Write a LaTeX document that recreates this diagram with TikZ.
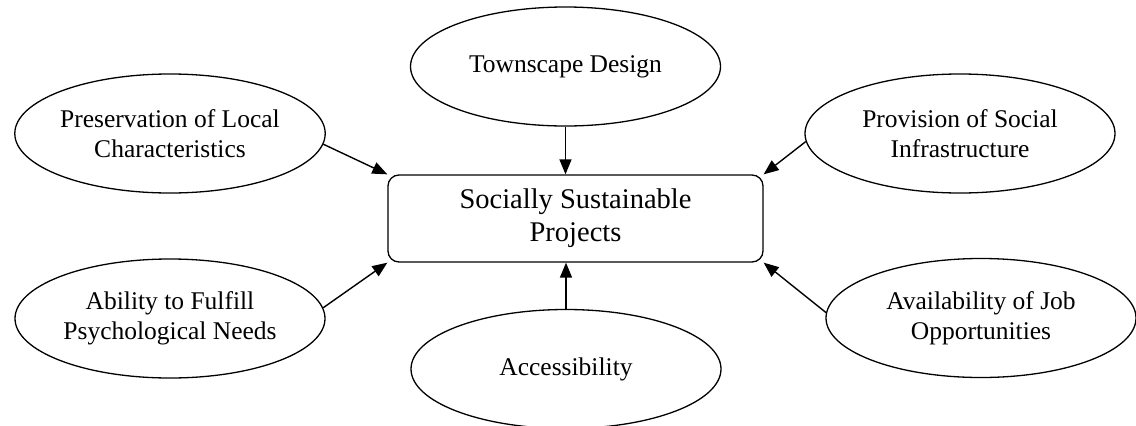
\documentclass[tikz,border=0pt]{standalone}
\usepackage{fontspec}
\setmainfont{Liberation Serif}
\usetikzlibrary{shapes.geometric,arrows.meta}

\tikzset{
  factor/.style={draw, ellipse, line width=1.3pt, minimum width=310pt,
    minimum height=119pt, inner sep=0pt, align=center,
    font=\fontsize{25.5}{30}\selectfont},
  goal/.style={draw, rectangle, rounded corners=11pt, line width=1.3pt,
    minimum width=375pt, minimum height=87pt, inner sep=0pt, align=center,
    font=\fontsize{28.5}{33}\selectfont},
  link/.style={line width=1.4pt, -{Triangle[length=15pt,width=12pt]}}
}

\begin{document}
\begin{tikzpicture}[x=1pt, y=-1pt]
  \useasboundingbox (0,0) rectangle (1136,426);

  % central outcome
  \node[goal] (ssp) at (575.5,218.5) {Socially Sustainable\\Projects};

  % contributing factors
  \node[factor] (town) at (565.5,66.5)  {Townscape Design};
  \node[factor] (pres) at (170,133.5)   {Preservation of Local\\Characteristics};
  \node[factor] (prov) at (960,133.5)   {Provision of Social\\Infrastructure};
  \node[factor] (psy)  at (170,318.5)   {Ability to Fulfill\\Psychological Needs};
  \node[factor] (acc)  at (566,369)     {Accessibility};
  \node[factor] (job)  at (981,318)     {Availability of Job\\Opportunities};

  % influences on the outcome
  \draw[link] (town.south) -- (town.south |- ssp.north);
  \draw[link] (acc.north) -- (acc.north |- ssp.south);
  \draw[link] (pres.-4) -- (ssp.north west);
  \draw[link] (prov.183) -- (ssp.north east);
  \draw[link] (psy.4) -- (ssp.south west);
  \draw[link] (job.178) -- (ssp.south east);
\end{tikzpicture}
\end{document}
